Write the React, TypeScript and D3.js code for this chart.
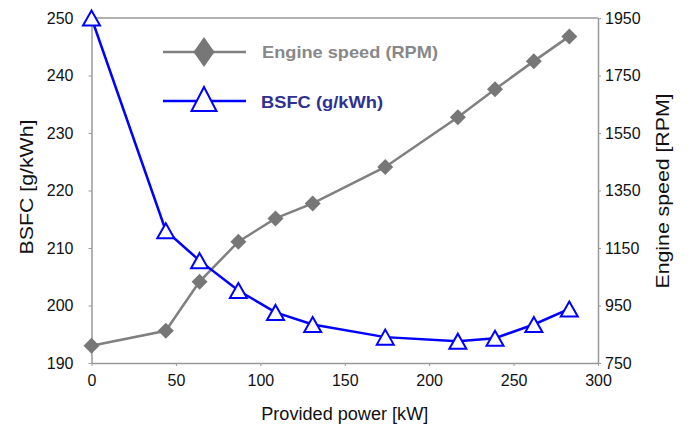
import React, { useEffect, useRef } from "react";
import * as d3 from "d3";

// Data
const power = [0, 44, 64, 87, 109, 131, 174, 217, 239, 262, 283];
const bsfc = [250, 213, 207.8, 202.6, 198.8, 196.7, 194.5, 193.8, 194.3, 196.7, 199.4];
const engineSpeed = [810, 862, 1033, 1172, 1253, 1305, 1432, 1605, 1702, 1800, 1886];

const xTicks = [0, 50, 100, 150, 200, 250, 300];
const leftTicks = [190, 200, 210, 220, 230, 240, 250];
const rightTicks = [750, 950, 1150, 1350, 1550, 1750, 1950];

const seriesNames = ["Engine speed (RPM)", "BSFC (g/kWh)"];

const width = 691;
const height = 425;
const margin = { top: 18, right: 93, bottom: 62, left: 91.5 };

const GRAY = "#808080";
const BLUE = "#0000ff";
const FONT = "'Liberation Sans', Arial, sans-serif";

const App = () => {
  const svgRef = useRef<SVGSVGElement>(null);

  useEffect(() => {
    const svg = d3.select(svgRef.current);
    svg.selectAll("*").remove();

    const x = d3.scaleLinear().domain([0, 300]).range([margin.left, width - margin.right]);
    const yL = d3.scaleLinear().domain([190, 250]).range([height - margin.bottom, margin.top]);
    const yR = d3.scaleLinear().domain([750, 1950]).range([height - margin.bottom, margin.top]);

    const x0 = margin.left;
    const x1 = width - margin.right;
    const y0 = height - margin.bottom;
    const y1 = margin.top;

    // top border
    svg.append("line")
      .attr("x1", x0).attr("x2", x1).attr("y1", y1).attr("y2", y1)
      .attr("stroke", "#999").attr("stroke-width", 1.5);

    // axes
    const styleAxis = (g) => {
      g.select(".domain").attr("stroke", "#999").attr("stroke-width", 1.5);
      g.selectAll(".tick line").attr("stroke", "#999");
      g.selectAll(".tick text")
        .attr("fill", "#111")
        .style("font-family", FONT)
        .style("font-size", "16px");
    };

    svg.append("g")
      .attr("transform", `translate(0,${y0})`)
      .call(d3.axisBottom(x).tickValues(xTicks).tickSize(3).tickSizeOuter(0).tickPadding(9))
      .call(styleAxis);

    svg.append("g")
      .attr("transform", `translate(${x0},0)`)
      .call(d3.axisLeft(yL).tickValues(leftTicks).tickSize(3).tickSizeOuter(0).tickPadding(15))
      .call(styleAxis);

    svg.append("g")
      .attr("transform", `translate(${x1},0)`)
      .call(d3.axisRight(yR).tickValues(rightTicks).tickFormat(d3.format("d")).tickSize(3).tickSizeOuter(0).tickPadding(4))
      .call(styleAxis);

    // axis titles
    const title = (sel, len) =>
      sel.attr("text-anchor", "middle")
        .attr("textLength", len).attr("lengthAdjust", "spacingAndGlyphs")
        .style("font-family", FONT).style("font-size", "18px").attr("fill", "#111");

    svg.append("text")
      .attr("x", (x0 + x1) / 2).attr("y", 420)
      .call(title, 167)
      .text("Provided power [kW]");

    svg.append("text")
      .attr("transform", `translate(33,187) rotate(-90)`)
      .call(title, 135)
      .text("BSFC [g/kWh]");

    svg.append("text")
      .attr("transform", `translate(669,191) rotate(-90)`)
      .call(title, 195)
      .text("Engine speed [RPM]");

    const diamond = (w, h) => `M0,${-h / 2}L${w / 2},0L0,${h / 2}L${-w / 2},0Z`;
    const triangle = (w, h) => `M0,${-h / 2}L${w / 2},${h / 2}L${-w / 2},${h / 2}Z`;

    // engine speed line
    const speedLine = d3.line<number>().x((d, i) => x(power[i])).y((d) => yR(d));
    svg.append("path")
      .datum(engineSpeed)
      .attr("d", speedLine)
      .attr("fill", "none").attr("stroke", GRAY).attr("stroke-width", 2.5);

    svg.append("g").selectAll("path")
      .data(engineSpeed)
      .join("path")
      .attr("transform", (d, i) => `translate(${x(power[i])},${yR(d)})`)
      .attr("d", diamond(16, 16))
      .attr("fill", "#777");

    // BSFC line
    const bsfcLine = d3.line<number>().x((d, i) => x(power[i])).y((d) => yL(d));
    svg.append("path")
      .datum(bsfc)
      .attr("d", bsfcLine)
      .attr("fill", "none").attr("stroke", BLUE).attr("stroke-width", 2.5);

    svg.append("g").selectAll("path")
      .data(bsfc)
      .join("path")
      .attr("transform", (d, i) => `translate(${x(power[i])},${yL(d)})`)
      .attr("d", triangle(17, 15))
      .attr("fill", "#fff").attr("stroke", BLUE).attr("stroke-width", 2);

    // legend
    const legend = svg.append("g");
    legend.append("line")
      .attr("x1", 163).attr("x2", 246).attr("y1", 52).attr("y2", 52)
      .attr("stroke", GRAY).attr("stroke-width", 2.5);
    legend.append("path")
      .attr("transform", "translate(204,52)")
      .attr("d", diamond(21, 30))
      .attr("fill", "#777");
    legend.append("text")
      .attr("x", 262).attr("y", 58)
      .attr("textLength", 176).attr("lengthAdjust", "spacingAndGlyphs")
      .style("font-family", FONT).style("font-size", "17px").style("font-weight", "bold")
      .attr("fill", "#888")
      .text(seriesNames[0]);

    legend.append("line")
      .attr("x1", 163).attr("x2", 246).attr("y1", 101).attr("y2", 101)
      .attr("stroke", BLUE).attr("stroke-width", 2.5);
    legend.append("path")
      .attr("transform", "translate(204,99)")
      .attr("d", triangle(25, 24))
      .attr("fill", "#fff").attr("stroke", BLUE).attr("stroke-width", 2);
    legend.append("text")
      .attr("x", 261).attr("y", 108)
      .attr("textLength", 122).attr("lengthAdjust", "spacingAndGlyphs")
      .style("font-family", FONT).style("font-size", "17px").style("font-weight", "bold")
      .attr("fill", "#2e3192")
      .text(seriesNames[1]);
  }, []);

  return (
    <svg
      ref={svgRef}
      width={width}
      height={height}
      style={{ position: "absolute", left: 0, top: 0, background: "#fff" }}
    />
  );
};

export default App;
